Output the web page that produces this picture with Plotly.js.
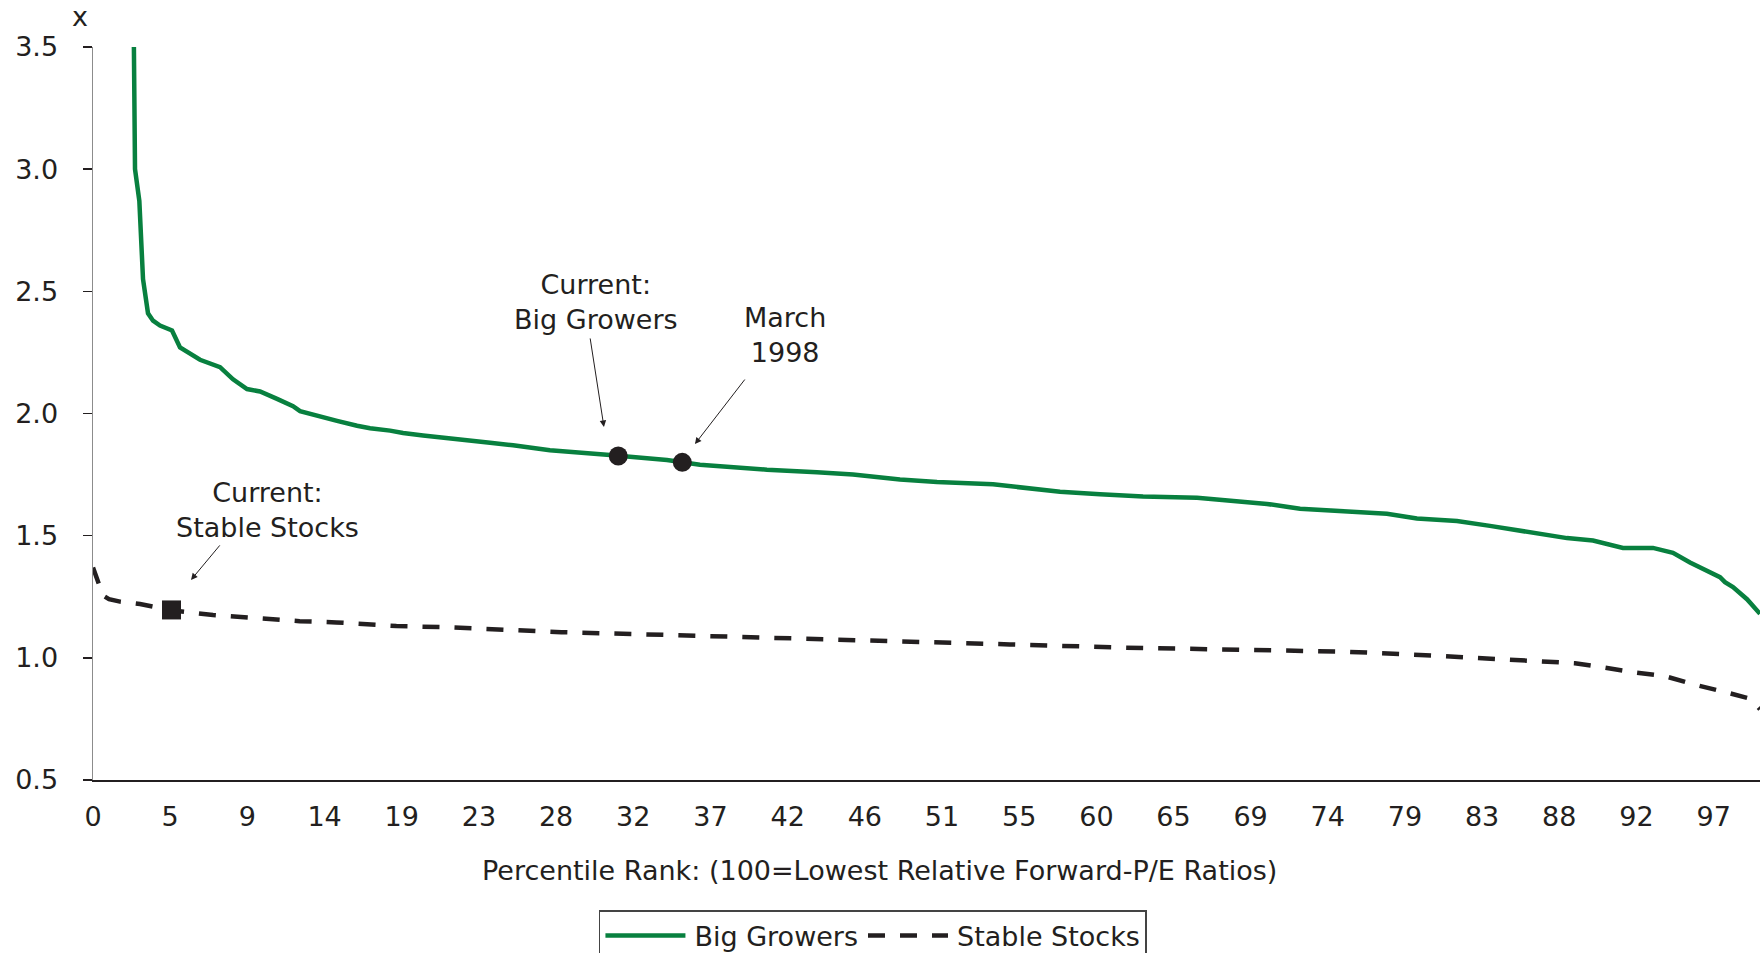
<!DOCTYPE html>
<html>
<head>
<meta charset="utf-8">
<script src="https://cdn.plot.ly/plotly-3.0.1.min.js"></script>
<style>
html,body{margin:0;padding:0;background:#fff;}
#chart{width:1760px;height:953px;}
</style>
</head>
<body>
<div id="chart"></div>
<script>
// Percentile rank (x) and relative forward P/E (y)
const growersPct = [2.42, 2.52, 2.78, 2.92, 3.00, 3.30, 3.60, 4.02, 4.74, 5.22, 6.42, 7.62, 8.40, 9.24, 10.02, 11.04, 12.00, 12.42, 13.44, 14.64, 15.84, 16.62, 17.82, 18.60, 19.80, 21.00, 22.62, 23.82, 25.20, 26.21, 27.41, 31.01, 34.43, 36.41, 40.43, 43.43, 45.59, 48.41, 50.63, 53.99, 55.43, 58.01, 60.41, 62.99, 66.23, 68.39, 70.43, 72.41, 75.41, 77.62, 79.42, 81.82, 83.80, 86.80, 88.42, 89.98, 91.78, 93.58, 94.78, 95.80, 97.00, 97.60, 97.90, 98.38, 99.22, 100.0];
const growersRatio = [3.75, 3.00, 2.87, 2.60, 2.55, 2.41, 2.38, 2.36, 2.34, 2.27, 2.22, 2.19, 2.14, 2.10, 2.09, 2.06, 2.03, 2.01, 1.99, 1.97, 1.95, 1.94, 1.93, 1.92, 1.91, 1.90, 1.89, 1.88, 1.87, 1.86, 1.85, 1.83, 1.81, 1.79, 1.77, 1.76, 1.75, 1.73, 1.72, 1.71, 1.70, 1.68, 1.67, 1.66, 1.655, 1.64, 1.63, 1.61, 1.60, 1.59, 1.57, 1.56, 1.54, 1.51, 1.49, 1.48, 1.45, 1.45, 1.43, 1.39, 1.35, 1.33, 1.31, 1.29, 1.24, 1.18];

const stablePct = [0.0, 0.35, 0.6, 0.96, 1.62, 2.82, 3.54, 4.66, 7.2, 9.1, 12.4, 14.6, 18.2, 21.4, 28.1, 34.8, 41.55, 48.3, 55.0, 61.7, 68.5, 75.2, 79.6, 82.7, 85.0, 87.1, 88.9, 90.7, 92.5, 94.3, 96.1, 97.9, 99.3, 99.6, 100.0];
const stableRatio = [1.37, 1.30, 1.255, 1.24, 1.23, 1.22, 1.21, 1.195, 1.175, 1.165, 1.15, 1.145, 1.13, 1.125, 1.105, 1.093, 1.079, 1.065, 1.055, 1.042, 1.034, 1.025, 1.012, 1.0, 0.99, 0.985, 0.978, 0.96, 0.94, 0.925, 0.89, 0.86, 0.835, 0.82, 0.79];

// Highlighted points
const growerPointsPct = [31.51, 35.35];
const growerPointsRatio = [1.826, 1.800];
const stablePointPct = [4.71];
const stablePointRatio = [1.196];

// Axis ticks
const xTickPositions = [0, 4.63, 9.26, 13.89, 18.52, 23.15, 27.78, 32.41, 37.04, 41.67, 46.30, 50.93, 55.56, 60.19, 64.81, 69.44, 74.07, 78.70, 83.33, 87.96, 92.59, 97.22];
const xTickLabels = ['0','5','9','14','19','23','28','32','37','42','46','51','55','60','65','69','74','79','83','88','92','97'];
const yTickValues = [0.5, 1.0, 1.5, 2.0, 2.5, 3.0, 3.5];

const ink = '#231f20';
const green = '#08803f';
const font = 'DejaVu Sans, Noto Sans, sans-serif';

const traces = [
  {x: growersPct, y: growersRatio, type: 'scatter', mode: 'lines', name: 'Big Growers',
   line: {color: green, width: 4.5}},
  {x: stablePct, y: stableRatio, type: 'scatter', mode: 'lines', name: 'Stable Stocks',
   line: {color: ink, width: 4.5, dash: '17px,15px'}},
  {x: growerPointsPct, y: growerPointsRatio, type: 'scatter', mode: 'markers', showlegend: false,
   marker: {color: ink, size: 19, symbol: 'circle'}},
  {x: stablePointPct, y: stablePointRatio, type: 'scatter', mode: 'markers', showlegend: false,
   marker: {color: ink, size: 19, symbol: 'square'}}
];

const arrowStyle = {showarrow: true, arrowhead: 2, arrowsize: 1.3, arrowwidth: 1, arrowcolor: ink, text: ''};

const layout = {
  width: 1760, height: 953,
  margin: {l: 93, r: 0, t: 47, b: 173, autoexpand: false},
  paper_bgcolor: '#ffffff', plot_bgcolor: '#ffffff',
  font: {family: font, size: 27, color: ink},
  showlegend: true,
  legend: {orientation: 'h', x: 0.3035, xanchor: 'left', y: -0.1774, yanchor: 'top',
           bordercolor: '#444444', borderwidth: 1.5, font: {size: 27, color: ink}, itemwidth: 84},
  xaxis: {range: [0, 100], tickmode: 'array', tickvals: xTickPositions, ticktext: xTickLabels,
          ticks: '', showline: true, linecolor: ink, linewidth: 1.5, showgrid: false, zeroline: false,
          ticklabelstandoff: 12, fixedrange: true},
  yaxis: {range: [0.5, 3.5], tickmode: 'array', tickvals: yTickValues, tickformat: '.1f',
          ticks: 'outside', ticklen: 9, tickwidth: 1.5, tickcolor: ink,
          showline: true, linecolor: '#8c8c8c', linewidth: 1.5, showgrid: false, zeroline: false,
          ticklabelstandoff: 19, fixedrange: true},
  annotations: [
    {xref: 'paper', yref: 'paper', x: -0.0075, y: 1.042, text: 'x', showarrow: false, xanchor: 'center', yanchor: 'middle'},
    {xref: 'paper', yref: 'paper', x: 0.4721, y: -0.1241, text: 'Percentile Rank: (100=Lowest Relative Forward-P/E Ratios)', showarrow: false, xanchor: 'center', yanchor: 'middle'},
    {x: 30.17, y: 2.456, text: 'Current:<br>Big Growers', showarrow: false, xanchor: 'center', yanchor: 'middle'},
    {x: 41.51, y: 2.323, text: 'March<br>1998', showarrow: false, xanchor: 'center', yanchor: 'middle'},
    {x: 10.44, y: 1.605, text: 'Current:<br>Stable Stocks', showarrow: false, xanchor: 'center', yanchor: 'middle'},
    Object.assign({x: 30.65, y: 1.945, ax: -14, ay: -90}, arrowStyle),
    Object.assign({x: 36.11, y: 1.875, ax: 51, ay: -66}, arrowStyle),
    Object.assign({x: 5.88, y: 1.319, ax: 30, ay: -36}, arrowStyle)
  ]
};

Plotly.newPlot('chart', traces, layout, {displayModeBar: false, staticPlot: true}).then(function(gd) {
  // lengthen the legend line samples to match the original's long swatches
  gd.querySelectorAll('.legend .legendlines path').forEach(function(p) {
    p.setAttribute('d', 'M5,0h80');
  });
});
</script>
</body>
</html>
